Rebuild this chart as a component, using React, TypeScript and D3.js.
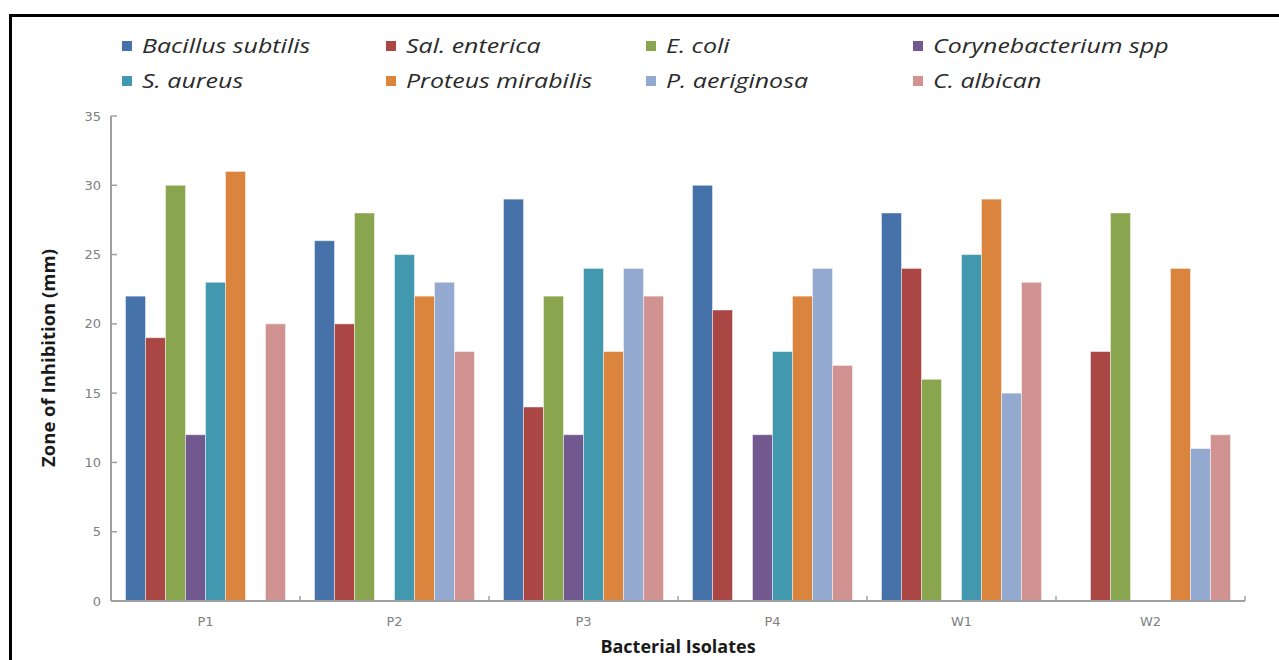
import React from "react";
import * as d3 from "d3";

const categories = ["P1", "P2", "P3", "P4", "W1", "W2"];
const seriesNames = [
  "Bacillus subtilis",
  "Sal. enterica",
  "E. coli",
  "Corynebacterium spp",
  "S. aureus",
  "Proteus mirabilis",
  "P. aeriginosa",
  "C. albican",
];
const seriesColors = ["#4572A8", "#AA4644", "#89A54E", "#71588F", "#4198AF", "#DB843D", "#93A9CF", "#D19392"];
// values per series, indexed by category (0 = no bar)
const bacillus = [22, 26, 29, 30, 28, 0];
const salEnterica = [19, 20, 14, 21, 24, 18];
const eColi = [30, 28, 22, 0, 16, 28];
const coryne = [12, 0, 12, 12, 0, 0];
const sAureus = [23, 25, 24, 18, 25, 0];
const proteus = [31, 22, 18, 22, 29, 24];
const pAeriginosa = [0, 23, 24, 24, 15, 11];
const cAlbican = [20, 18, 22, 17, 23, 12];
const seriesValues = [bacillus, salEnterica, eColi, coryne, sAureus, proteus, pAeriginosa, cAlbican];
const yTicks = [0, 5, 10, 15, 20, 25, 30, 35];

const W = 1279;
const H = 660;
const left = 111;
const right = 1245;
const top = 116;
const bottom = 601;

export default function App() {
  const x = d3.scaleBand<string>().domain(categories).range([left, right]).paddingInner(0).paddingOuter(0);
  const bw = x.bandwidth();
  const inner = d3
    .scaleBand<number>()
    .domain(d3.range(seriesNames.length))
    .range([14.5, bw - 14.5])
    .padding(0);
  const y = d3.scaleLinear().domain([0, 35]).range([bottom, top]);

  const legendCols = [122, 386, 646, 913];
  const legendRows = [46, 81];

  return (
    <svg
      width={W}
      height={H}
      style={{ position: "absolute", left: 0, top: 0, background: "#fff" }}
    >
      <rect x={0} y={0} width={W} height={H} fill="#fff" />
      <rect x={10.5} y={15.5} width={W + 20} height={H + 20} fill="none" stroke="#000" strokeWidth={3} />

      {/* legend */}
      {seriesNames.map((name, i) => {
        const col = i % 4;
        const row = Math.floor(i / 4);
        const lx = legendCols[col];
        const ly = legendRows[row];
        return (
          <g key={name}>
            <rect x={lx} y={ly - 5} width={10} height={10} fill={seriesColors[i]} />
            <text
              transform={`translate(${lx + 20}, ${ly}) scale(1.28, 1)`}
              dy="0.36em"
              fontFamily="'Open Sans', sans-serif"
              fontStyle="italic"
              fontSize={19.5}
              fill="#2a2a2a"
            >
              {name}
            </text>
          </g>
        );
      })}

      {/* bars */}
      {categories.map((c, ci) => (
        <g key={c}>
          {seriesValues.map((vals, si) => {
            const v = vals[ci];
            if (!v) return null;
            return (
              <rect
                key={si}
                x={(x(c) as number) + (inner(si) as number)}
                y={y(v)}
                width={inner.bandwidth()}
                height={y(0) - y(v)}
                fill={seriesColors[si]}
                stroke="rgba(255,255,255,0.45)"
                strokeWidth={1}
              />
            );
          })}
        </g>
      ))}

      {/* y axis */}
      <line x1={left} x2={left} y1={top} y2={bottom} stroke="#a0a0a0" strokeWidth={2} />
      {yTicks.map((t) => (
        <g key={t}>
          <line x1={left} x2={left + 6} y1={y(t)} y2={y(t)} stroke="#a0a0a0" strokeWidth={1.5} />
          <text
            x={left - 10}
            y={y(t)}
            dy="0.35em"
            textAnchor="end"
            fontFamily="'DejaVu Sans', sans-serif"
            fontSize={13}
            fill="#808080"
          >
            {t}
          </text>
        </g>
      ))}

      {/* x axis */}
      <line x1={left} x2={right} y1={bottom} y2={bottom} stroke="#a0a0a0" strokeWidth={2} />
      {categories.map((c, ci) => (
        <g key={c}>
          <line
            x1={(x(c) as number) + bw}
            x2={(x(c) as number) + bw}
            y1={bottom}
            y2={bottom - 5}
            stroke="#a0a0a0"
            strokeWidth={1.5}
          />
          <text
            x={(x(c) as number) + bw / 2}
            y={621}
            dy="0.35em"
            textAnchor="middle"
            fontFamily="'DejaVu Sans', sans-serif"
            fontSize={13}
            fill="#808080"
          >
            {c}
          </text>
        </g>
      ))}

      <text
        x={678}
        y={653}
        textAnchor="middle"
        fontFamily="'Open Sans', sans-serif"
        fontWeight="bold"
        fontSize={18}
        fill="#1a1a1a"
      >
        Bacterial Isolates
      </text>
      <text
        transform={`translate(49, 358) rotate(-90)`}
        dy="0.35em"
        textAnchor="middle"
        fontFamily="'Open Sans', sans-serif"
        fontWeight="bold"
        fontSize={18.5}
        fill="#1a1a1a"
      >
        Zone of Inhibition (mm)
      </text>
    </svg>
  );
}
